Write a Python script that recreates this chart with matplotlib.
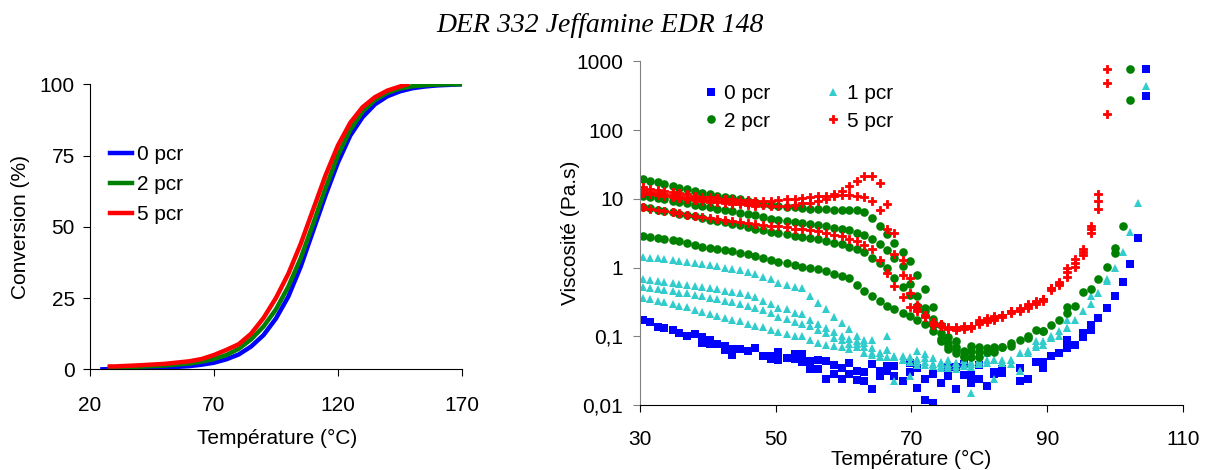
import matplotlib
matplotlib.use("Agg")
import matplotlib.pyplot as plt
import numpy as np

plt.rcParams['font.family'] = ['Liberation Sans', 'DejaVu Sans']
nan = np.nan

# ---- left panel: conversion curves
conv_temp_0 = [25, 30, 40, 50, 60, 65, 70, 75, 80, 85, 90, 95, 100, 105, 110,
               115, 120, 125, 130, 135, 140, 145, 150, 155, 160, 165, 170]
conv_0pcr = [0, 0.1, 0.3, 0.6, 1.1, 1.6, 2.3, 3.5, 5.2, 8.0, 12.0, 17.8, 25.5, 36.0, 48.5,
             61.0, 72.5, 82.0, 88.5, 93.0, 95.8, 97.5, 98.6, 99.2, 99.6, 99.8, 100]
conv_temp_2 = [28, 30, 40, 50, 60, 65, 70, 75, 80, 85, 90, 95, 100, 105, 110,
               115, 120, 125, 130, 135, 140, 145, 150, 155, 160, 165, 170]
conv_2pcr = [0.5, 0.6, 0.9, 1.3, 2.0, 2.7, 3.6, 5.0, 7.2, 10.5, 15.0, 21.0, 29.0, 39.0, 51.0,
             63.5, 75.0, 84.0, 90.5, 94.5, 97.0, 98.5, 99.3, 99.7, 99.9, 100, 100]
conv_temp_5 = [28, 30, 40, 50, 60, 65, 70, 75, 80, 85, 90, 95, 100, 105, 110,
               115, 120, 125, 130, 135, 140, 145, 148]
conv_5pcr = [1.0, 1.0, 1.4, 1.9, 2.8, 3.6, 5.0, 6.8, 8.8, 12.5, 18.0, 25.0, 33.5, 44.0, 56.0,
             68.0, 78.5, 86.5, 92.0, 95.5, 97.8, 99.2, 100]

# ---- right panel: viscosity, several runs per formulation on a common temperature grid
temp = [30.4, 31.5, 32.6, 33.6, 34.8, 35.8, 36.9, 38.1, 39.1, 40.3, 41.4,
        42.5, 43.6, 44.7, 45.9, 47.0, 48.2, 49.3, 50.4, 51.7, 52.8, 53.9,
        55.0, 56.2, 57.4, 58.6, 59.7, 60.8, 62.0, 63.0, 64.2, 65.3, 66.4,
        67.5, 68.7, 69.8, 70.8, 72.0, 73.2, 74.3, 75.4, 76.5, 77.7, 78.8, 80.0,
        81.1, 82.2, 83.4, 84.6, 86.0, 87.1, 88.3, 89.4, 90.5, 91.7, 92.9,
        94.1, 95.3, 96.4, 97.5, 98.8, 100.0, 101.1, 102.2, 103.3, 104.5]

visc_0pcr_a = [0.173, 0.160, 0.138, 0.131, 0.122, 0.111, 0.102, 0.107, 0.099, 0.087, 0.077,
               0.072, 0.065, 0.065, 0.061, 0.067, 0.052, 0.052, 0.060, 0.048, 0.055, 0.055,
               0.044, 0.045, 0.044, 0.038, 0.034, 0.041, 0.031, 0.030, 0.039, 0.031, 0.037,
               0.037, 0.022, 0.041, 0.035, 0.024, 0.028, 0.021, 0.036, 0.036, 0.039, 0.027, 0.038,
               0.019, 0.030, 0.033, nan, 0.034, 0.024, 0.042, 0.042, 0.052, 0.058, 0.088,
               0.075, 0.110, 0.146, 0.187, 0.261, 0.390, 0.624, 1.13, 2.67, 310]
visc_0pcr_b = [nan, nan, nan, nan, nan, nan, nan, nan, 0.079, 0.076, nan,
               0.064, 0.053, nan, nan, nan, nan, 0.046, 0.045, nan, 0.046, 0.042,
               0.033, 0.033, 0.024, 0.028, 0.024, 0.028, 0.023, 0.022, 0.017, 0.026, 0.031,
               0.026, nan, 0.030, 0.0175, 0.012, 0.0106, nan, 0.026, 0.017, 0.027, 0.021, 0.024,
               nan, 0.028, 0.029, nan, 0.022, 0.024, nan, 0.035, nan, nan, 0.068,
               nan, 0.099, 0.125, nan, nan, nan, nan, nan, nan, 782]

visc_1pcr_a = [1.41, 1.39, 1.36, 1.33, 1.29, 1.25, 1.22, 1.17, 1.12, 1.08, 1.04,
               1.00, 0.96, 0.92, 0.86, 0.80, 0.74, 0.68, 0.60, 0.55, 0.52, 0.50,
               0.38, 0.31, 0.25, 0.19, 0.154, 0.128, 0.100, 0.089, 0.089, 0.058, 0.100,
               0.050, 0.051, 0.050, 0.061, 0.055, 0.048, 0.042, 0.039, 0.037, 0.037, 0.042, 0.039,
               0.045, 0.045, 0.045, 0.045, 0.058, 0.061, 0.071, 0.084, 0.093, 0.12, 0.17,
               0.17, 0.23, 0.30, 0.42, 0.68, 1.0, 1.67, 3.3, 8.6, 433]
visc_1pcr_b = [0.68, 0.66, 0.64, 0.62, 0.60, 0.58, 0.56, 0.54, 0.52, 0.50, 0.48,
               0.46, 0.44, 0.42, 0.40, 0.37, 0.33, 0.30, 0.26, 0.25, 0.22, 0.21,
               0.17, 0.15, 0.13, 0.117, 0.102, 0.091, 0.086, 0.080, 0.068, 0.050, 0.063,
               0.022, 0.045, 0.026, 0.042, 0.038, 0.037, 0.037, 0.034, 0.033, 0.037, 0.015, 0.041,
               0.041, 0.024, 0.041, 0.045, 0.031, 0.058, 0.075, 0.075, 0.10, nan, 0.13,
               nan, nan, 0.39, nan, 0.64]
visc_1pcr_c = [0.53, 0.51, 0.49, 0.47, 0.45, 0.43, 0.42, 0.40, 0.38, 0.36, 0.35,
               0.33, 0.32, 0.30, 0.28, 0.26, 0.24, 0.22, 0.19, 0.18, 0.163, 0.15,
               0.14, 0.125, 0.110, 0.096, 0.087, 0.076, 0.077, 0.071, 0.058, 0.050, 0.050,
               0.050, 0.045, 0.042, 0.047, 0.042, 0.039, 0.034, 0.045, 0.041, 0.045, 0.036, 0.045,
               0.058, 0.045, 0.041, 0.039, 0.031, 0.061, 0.084, 0.075, 0.093, 0.10, 0.13]
visc_1pcr_d = [0.36, 0.35, 0.33, 0.32, 0.30, 0.28, 0.265, 0.24, 0.225, 0.21, 0.20,
               0.185, 0.175, 0.165, 0.15, 0.142, 0.135, 0.125, 0.115, 0.107, 0.100, 0.100,
               0.088, 0.080, 0.075, 0.073, 0.069, 0.065, 0.069, 0.058, 0.053, 0.058, 0.064,
               0.052, 0.045, 0.042, 0.038, 0.048, 0.040, 0.041, 0.037, 0.041, 0.040, 0.039, 0.044]

visc_2pcr_a = [19.5, 18.5, 17.4, 16.3, 15.4, 14.6, 13.8, 13.0, 12.3, 11.6, 11.0,
               10.5, 10.2, 9.8, 9.4, 9.0, 8.4, 8.1, 7.9, 7.7, 7.5, 7.3,
               7.2, 7.1, 7.1, 7.0, 6.9, 7.0, 6.9, 6.4, 5.2, 4.0, 3.1,
               2.3, 1.7, 1.25, 0.78, 0.49, 0.27, 0.146, 0.099, 0.085, 0.061, 0.073, 0.069,
               0.068, 0.069, 0.069, 0.079, 0.088, 0.093, 0.123, 0.119, 0.146, 0.17, 0.216,
               0.28, 0.44, nan, 0.68, 1.03, 1.91, 4.0, 775]
visc_2pcr_b = [11.0, 10.6, 10.2, 9.8, 9.4, 9.0, 8.6, 8.2, 7.9, 7.5, 7.2,
               6.9, 6.6, 6.3, 6.0, 5.8, 5.4, 5.1, 4.9, 4.7, 4.6, 4.4,
               4.3, 4.2, 4.0, 3.8, 3.7, 3.5, 3.2, 3.0, 2.6, 2.2, 1.8,
               1.4, 1.05, 0.57, 0.38, 0.26, 0.18, 0.110, 0.079, 0.071, 0.052, 0.061, 0.060,
               0.060, 0.066, nan, 0.073, nan, 0.102, nan, 0.12, nan, nan, 0.27,
               nan, nan, 0.49, nan, nan, 1.65, nan, 277]
visc_2pcr_c = [7.7, 7.3, 7.0, 6.7, 6.4, 6.1, 5.8, 5.6, 5.3, 5.0, 4.8,
               4.6, 4.3, 4.1, 3.9, 3.7, 3.5, 3.3, 3.2, 3.05, 2.9, 2.8,
               2.7, 2.6, 2.4, 2.25, 2.2, 2.0, 1.85, 1.7, 1.4, 1.15, 0.97,
               0.70, 0.53, 0.40, 0.28, 0.23, 0.146, 0.091, 0.073, 0.064, nan, 0.050, 0.050,
               0.060, 0.060, 0.069]
visc_2pcr_d = [2.88, 2.78, 2.70, 2.58, 2.48, 2.40, 2.26, 2.15, 2.02, 1.96, 1.88,
               1.80, 1.74, 1.65, 1.58, 1.48, 1.38, 1.29, 1.22, 1.18, 1.09, 1.03,
               0.99, 0.95, 0.88, 0.81, 0.76, 0.70, 0.55, 0.45, 0.38, 0.33, 0.28,
               0.25, 0.22, 0.20, 0.17, 0.15, 0.12, 0.085, 0.066, 0.058, 0.050]

visc_5pcr_a = [14.8, 14.0, 13.5, 13.0, 12.5, 12.0, 11.6, 11.2, 10.8, 10.5, 10.2,
               10.0, 9.8, 9.6, 9.5, 9.4, 9.4, 9.4, 9.6, 9.9, 9.9, 10.2,
               10.8, 11.0, 11.0, 11.7, 13.0, 15.4, 18.5, 21.3, 21.6, 17.3, 8.5,
               3.2, 1.3, 0.70, 0.29, 0.204, 0.154, 0.15, 0.131, 0.135, 0.139, 0.139, 0.172,
               0.185, 0.20, 0.206, 0.233, 0.261, 0.292, 0.33, 0.35, 0.51, 0.62, 1.0,
               1.34, 1.87, 4.0, 11.6, 782]
visc_5pcr_b = [13.3, 12.8, 12.3, 11.8, 11.4, 11.0, 10.6, 10.3, 10.0, 9.7, 9.4,
               9.2, 9.0, 8.8, 8.6, 8.4, 8.2, 7.9, 7.9, 7.9, 8.2, 8.6,
               8.8, 9.4, 9.9, 11.0, 11.3, 11.5, 11.0, 10.6, 9.4, 6.9, 3.6,
               1.6, 0.79, 0.43, 0.25, 0.20, 0.16, 0.15, 0.135, 0.13, 0.135, 0.139, 0.16,
               0.172, 0.185, 0.206, 0.233, 0.25, 0.28, 0.32, 0.35, 0.51, 0.60, 0.86,
               1.15, 1.67, 3.6, 9.3, 484]
visc_5pcr_c = [7.5, 7.2, 6.9, 6.7, 6.4, 6.2, 5.9, 5.7, 5.5, 5.3, 5.1,
               4.9, 4.8, 4.6, 4.5, 4.3, 4.2, 4.0, 4.0, 3.9, 3.7, 3.6,
               3.5, 3.45, 3.2, 3.0, 2.9, 2.6, 2.4, 2.1, 1.85, 1.3, 0.83,
               0.54, 0.37, 0.27, 0.23, 0.19, 0.147, 0.14, 0.128, 0.125, 0.128, 0.131, 0.15,
               0.16, 0.172, 0.194, 0.216, 0.233, 0.261, 0.30, 0.33, 0.47, 0.56, 0.73,
               1.02, 1.5, 3.2, 7.2, 173]
visc_5pcr_d = [12.3, 11.9, 11.5, 11.1, 10.7, 10.3, 10.0, 9.7, 9.4, 9.1, 8.9,
               8.7, 8.5, 8.3, 8.1, 8.0]

visc_ticks = [0.01, 0.1, 1, 10, 100, 1000]
visc_labels = ['0,01', '0,1', '1', '10', '100', '1000']

BLUE, CYAN, GREEN, RED = '#0000FF', '#33CCCC', '#008000', '#FF0000'
FS = 15

fig = plt.figure(figsize=(12.07, 4.70), dpi=100)
fig.text(0.497, 0.946, 'DER 332 Jeffamine EDR 148', ha='center', va='center',
         fontsize=20, style='italic', family='Liberation Serif')

# left
ax1 = fig.add_axes([0.0746, 0.2143, 0.3080, 0.6064])
ax1.plot(conv_temp_0, conv_0pcr, color=BLUE, lw=3.2, label='0 pcr')
ax1.plot(conv_temp_2, conv_2pcr, color=GREEN, lw=3.2, label='2 pcr')
ax1.plot(conv_temp_5, conv_5pcr, color=RED, lw=3.2, label='5 pcr')
ax1.set_xlim(20, 170)
ax1.set_ylim(0, 100)
ax1.set_xticks([20, 70, 120, 170])
ax1.set_yticks([0, 25, 50, 75, 100])
for s in ['top', 'right']:
    ax1.spines[s].set_visible(False)
ax1.tick_params(axis='x', direction='out', length=5, pad=14, labelsize=FS)
ax1.tick_params(axis='y', direction='out', length=5, pad=6, labelsize=FS)
ax1.set_xlabel('Température (°C)', fontsize=FS)
ax1.set_ylabel('Conversion (%)', fontsize=FS)
ax1.xaxis.set_label_coords(0.502, -0.21)
ax1.yaxis.set_label_coords(-0.161, 0.5)
ax1.legend(loc='upper left', bbox_to_anchor=(0.03, 0.815), frameon=False, fontsize=FS,
           handlelength=1.1, handletextpad=0.2, labelspacing=0.53, borderaxespad=0)

# right
ax2 = fig.add_axes([0.5302, 0.1383, 0.4499, 0.7309])
mk = dict(ls='none')
h0, = ax2.plot(temp, visc_0pcr_a, marker='s', ms=5.6, mew=0, color=BLUE, label='0 pcr', **mk)
ax2.plot(temp, visc_0pcr_b, marker='s', ms=5.6, mew=0, color=BLUE, **mk)
h1, = ax2.plot(temp, visc_1pcr_a, marker='^', ms=6.3, mew=0, color=CYAN, label='1 pcr', **mk)
for v in [visc_1pcr_b, visc_1pcr_c, visc_1pcr_d]:
    ax2.plot(temp[:len(v)], v, marker='^', ms=6.3, mew=0, color=CYAN, **mk)
h2, = ax2.plot(temp[:len(visc_2pcr_a)], visc_2pcr_a, marker='o', ms=6.2, mew=0, color=GREEN,
               label='2 pcr', **mk)
for v in [visc_2pcr_b, visc_2pcr_c, visc_2pcr_d]:
    ax2.plot(temp[:len(v)], v, marker='o', ms=6.2, mew=0, color=GREEN, **mk)
h5, = ax2.plot(temp[:len(visc_5pcr_a)], visc_5pcr_a, marker='P', ms=6, mew=0.6, color=RED,
               label='5 pcr', **mk)
for v in [visc_5pcr_b, visc_5pcr_c, visc_5pcr_d]:
    ax2.plot(temp[:len(v)], v, marker='P', ms=6, mew=0.6, color=RED, **mk)

ax2.set_yscale('log')
ax2.set_xlim(30, 110)
ax2.set_ylim(0.01, 1000)
ax2.set_xticks([30, 50, 70, 90, 110])
ax2.set_yticks(visc_ticks)
ax2.set_yticklabels(visc_labels)
ax2.minorticks_off()
for s in ['top', 'right']:
    ax2.spines[s].set_visible(False)
ax2.spines['left'].set_color('#808080')
ax2.tick_params(axis='x', direction='out', length=5, pad=13, labelsize=FS)
ax2.tick_params(axis='y', direction='out', length=5, pad=7, labelsize=FS, color='#808080')
ax2.set_xlabel('Température (°C)', fontsize=FS)
ax2.set_ylabel('Viscosité (Pa.s)', fontsize=FS)
ax2.xaxis.set_label_coords(0.5, -0.131)
ax2.yaxis.set_label_coords(-0.110, 0.5)
ax2.legend(handles=[h0, h2, h1, h5], ncol=2, loc='upper left', bbox_to_anchor=(0.10, 0.958),
           frameon=False, fontsize=FS, handlelength=0.8, handletextpad=0.25,
           columnspacing=2.6, labelspacing=0.4, borderaxespad=0)

fig.savefig('out.png', dpi=100)
